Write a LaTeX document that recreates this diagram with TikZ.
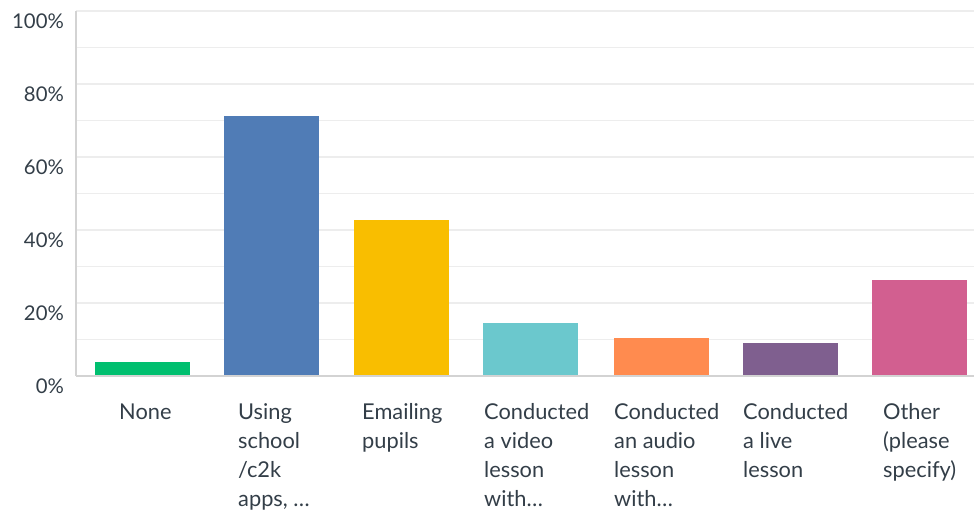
\documentclass[tikz,border=0pt]{standalone}
\usepackage{fontspec}
\setmainfont{Lato}
\definecolor{txt}{HTML}{333E48}
\definecolor{grid}{HTML}{EDEDED}
\definecolor{axisc}{HTML}{D3D3D3}
\definecolor{cgreen}{HTML}{00BF6F}
\definecolor{cblue}{HTML}{507CB6}
\definecolor{cyellow}{HTML}{F9BE00}
\definecolor{cteal}{HTML}{6BC8CD}
\definecolor{corange}{HTML}{FF8B4F}
\definecolor{cpurple}{HTML}{7F5F8F}
\definecolor{cpink}{HTML}{D25F90}
\begin{document}
\begin{tikzpicture}[x=1pt,y=-1pt,
  gridline/.style={draw=grid,line width=1.4pt},
  axisline/.style={draw=axisc,line width=1.6pt},
  ylab/.style={anchor=base east,inner sep=0pt,text=txt,font=\fontsize{20.3}{20.3}\selectfont},
  xlab/.style={anchor=base west,inner sep=0pt,text=txt,align=left,font=\fontsize{21.8}{29}\selectfont}]
\useasboundingbox (0,0) rectangle (974,510);
% grid
\foreach \v in {10,20,...,100}{
  \draw[gridline] (76,{376-3.65*\v}) -- (974,{376-3.65*\v});
}
\draw[axisline] (76,11) -- (76,376);
\draw[axisline] (76,376) -- (974,376);
% y labels
\foreach \v in {0,20,40,60,80,100}{
  \node[ylab] (y\v) at (64,{376-3.65*\v+17.5}) {\v\%};
}
% bars
\fill[cgreen]  (95,375)  rectangle (190,362);
\fill[cblue]   (224,375) rectangle (319,116);
\fill[cyellow] (354,375) rectangle (449,220);
\fill[cteal]   (483,375) rectangle (578,323);
\fill[corange] (614,375) rectangle (709,338);
\fill[cpurple] (743,375) rectangle (838,343);
\fill[cpink]   (872,375) rectangle (967,280);
% x labels (anchor = baseline of last line)
\node[xlab] (l1) at (119,419) {None};
\node[xlab] (l2) at (238,506) {Using\\school\\/c2k\\apps, …};
\node[xlab] (l3) at (362,448) {Emailing\\pupils};
\node[xlab] (l4) at (484,506) {Conducted\\a video\\lesson\\with…};
\node[xlab] (l5) at (614,506) {Conducted\\an audio\\lesson\\with…};
\node[xlab] (l6) at (743,477) {Conducted\\a live\\lesson};
\node[xlab] (l7) at (883,477) {Other\\(please\\specify)};
\end{tikzpicture}
\end{document}
